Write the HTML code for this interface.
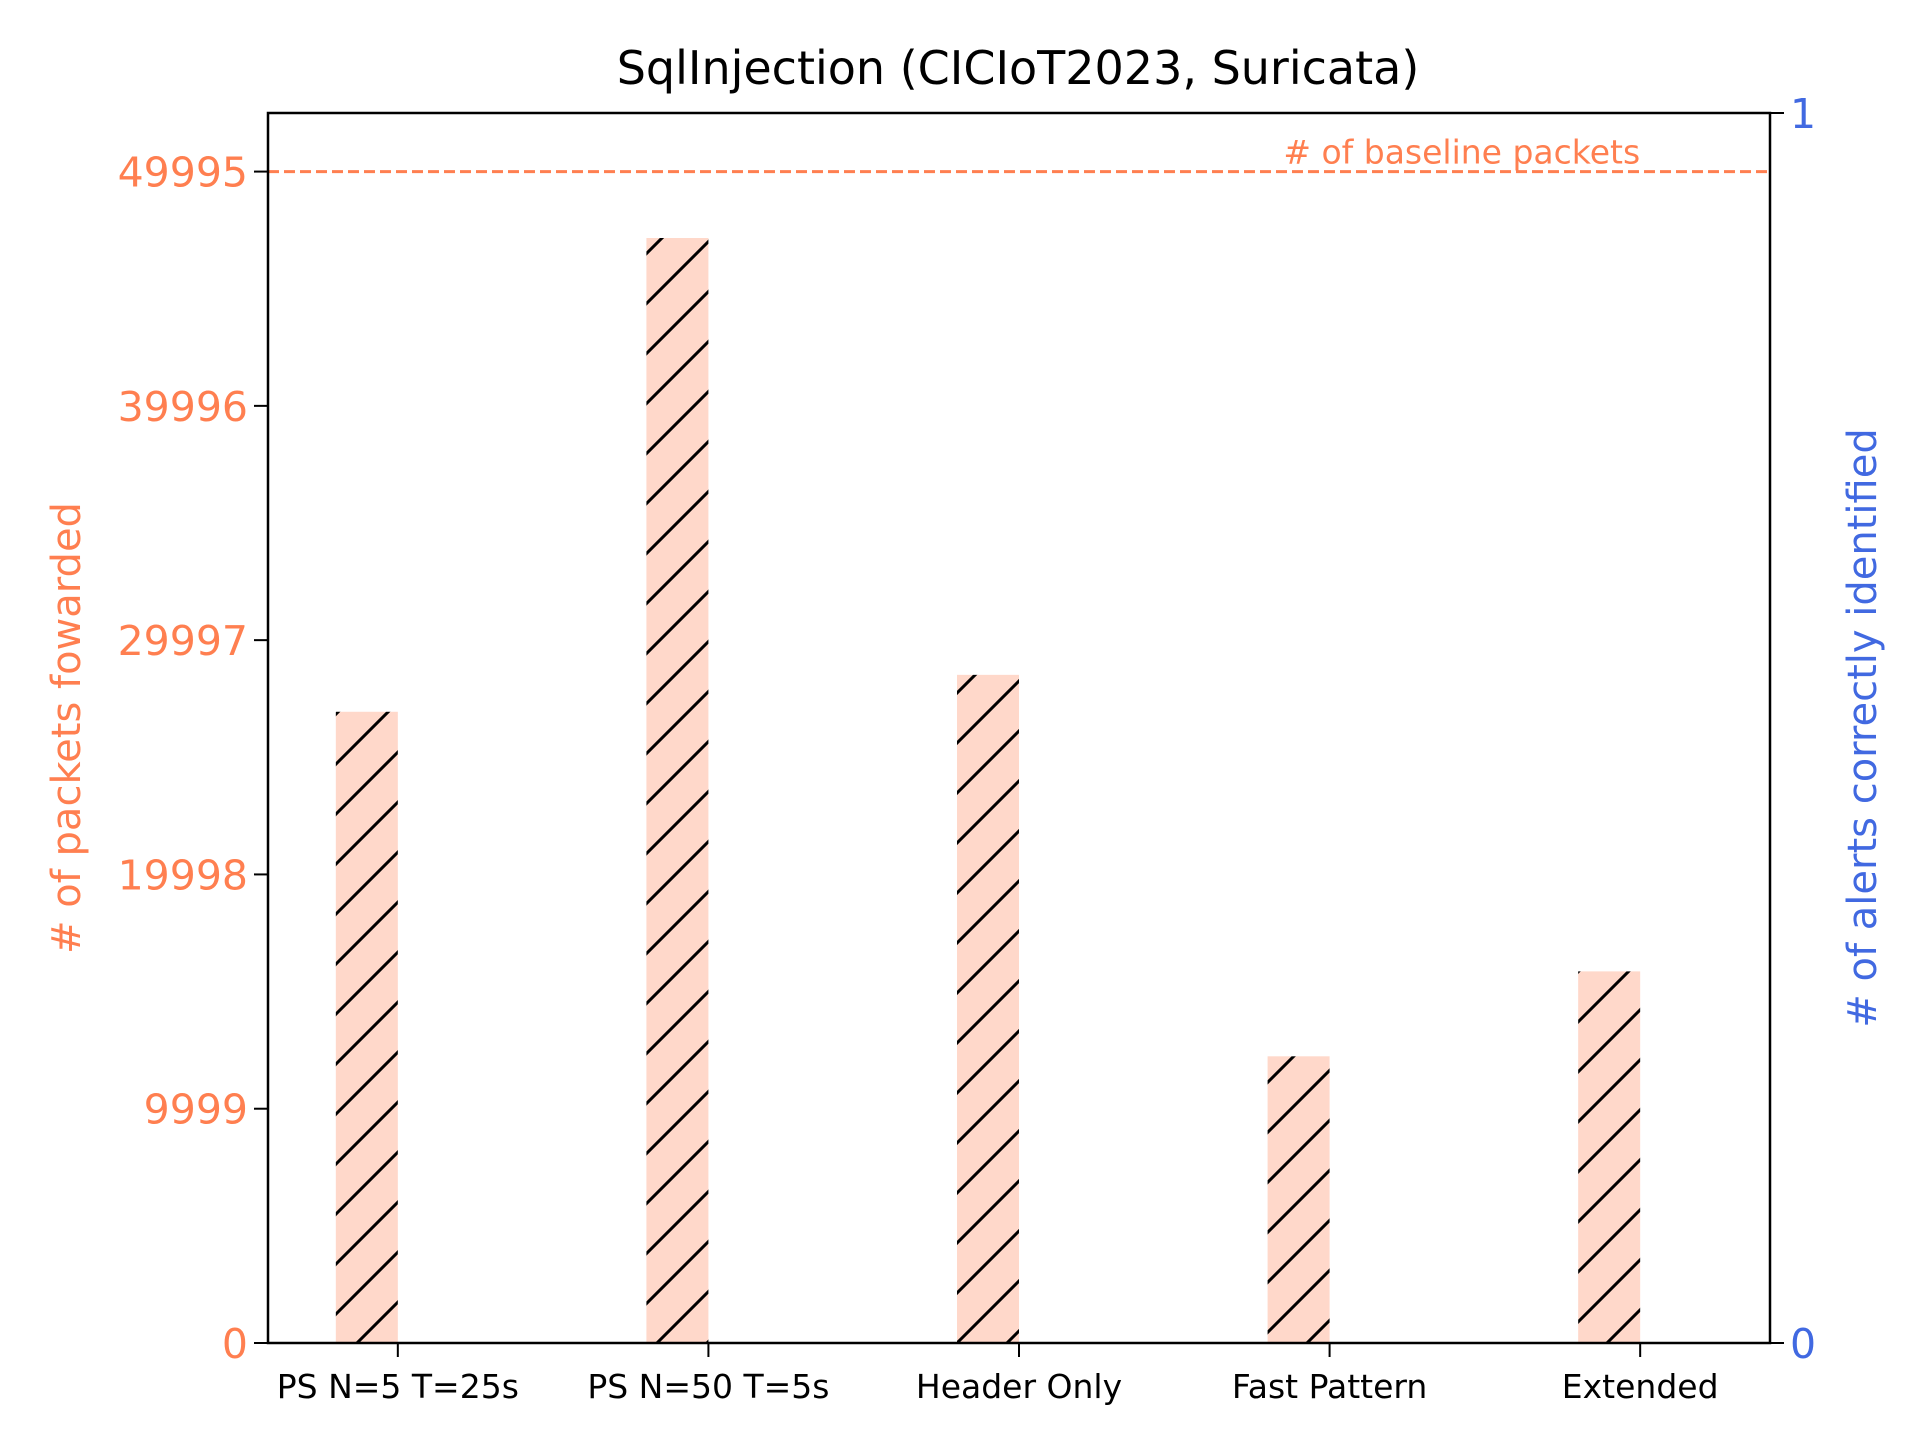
<!DOCTYPE html>
<html><head><meta charset="utf-8"><style>
html,body{margin:0;padding:0;background:#fff;}
svg{display:block;font-family:"DejaVu Sans","Liberation Sans",sans-serif;}
</style></head><body>
<svg id="chart" width="1920" height="1440" viewBox="0 0 1920 1440">
<defs>
<pattern id="hatch" patternUnits="userSpaceOnUse" width="50" height="50">
<rect width="50" height="50" fill="#FFD8CA"/>
<path d="M-5,55 L55,-5 M-30,30 L30,-30 M20,80 L80,20" stroke="#000" stroke-width="3"/>
</pattern>
</defs>
<text x="1018" y="84" font-size="46" text-anchor="middle" fill="#000">SqlInjection (CICIoT2023, Suricata)</text>
<g id="plot"></g>
<text transform="translate(80,728) rotate(-90)" font-size="40" text-anchor="middle" fill="#FF7F50"># of packets fowarded</text>
<text transform="translate(1876,728) rotate(-90)" font-size="40" text-anchor="middle" fill="#4169E1"># of alerts correctly identified</text>
</svg>
<script>
const categories = ["PS N=5 T=25s","PS N=50 T=5s","Header Only","Fast Pattern","Extended"];
const packets = [26940, 47160, 28516, 12236, 15860];
const yTicks = [0, 9999, 19998, 29997, 39996, 49995];
const baseline = 49995;
const y2Ticks = ["0","1"];

const L=268, R=1770, T=113, B=1343;
const yMax = 52495, xMin=-0.418, xMax=4.418;
const sy = v => B - v/yMax*(B-T);
const sx = i => L + (i-xMin)/(xMax-xMin)*(R-L);
const NS="http://www.w3.org/2000/svg";
const g=document.getElementById('plot');
function mk(tag,attrs,txt){const e=document.createElementNS(NS,tag);for(const k in attrs)e.setAttribute(k,attrs[k]);if(txt!==undefined)e.textContent=txt;g.appendChild(e);return e;}
const bw=62;
packets.forEach((v,i)=>{
  const r=mk('rect',{x:sx(i)-bw,y:sy(v),width:bw,height:B-sy(v),fill:'url(#hatch)'});
  
  
  const t=mk('line',{x1:sx(i),x2:sx(i),y1:B,y2:B+14,stroke:'#000','stroke-width':2});
  
  
  const l=mk('text',{x:sx(i),y:1398,'font-size':33,'text-anchor':'middle',fill:'#000'},categories[i]);
  
  
});
const bl=mk('line',{x1:L,x2:R,y1:sy(baseline),y2:sy(baseline),stroke:'#FF7F50','stroke-width':3,'stroke-dasharray':'11,5'});


const bt=mk('text',{x:sx(4),y:sy(baseline)-8,'font-size':33,'text-anchor':'end',fill:'#FF7F50'},'# of baseline packets');


yTicks.forEach(v=>{
  const t=mk('line',{x1:L-14,x2:L,y1:sy(v),y2:sy(v),stroke:'#000','stroke-width':2});
  
  
  const l=mk('text',{x:L-20,y:sy(v)+15,'font-size':41,'text-anchor':'end',fill:'#FF7F50'},String(v));
  
  
});
y2Ticks.forEach((s,i)=>{
  const y=i===0?B:T;
  const t=mk('line',{x1:R,x2:R+14,y1:y,y2:y,stroke:'#000','stroke-width':2});
  
  
  const l=mk('text',{x:R+20,y:y+15,'font-size':41,fill:'#4169E1'},s);
  
  
});
const fr=mk('rect',{x:L,y:T,width:R-L,height:B-T,fill:'none',stroke:'#000','stroke-width':2.5});


</script>
</body></html>
